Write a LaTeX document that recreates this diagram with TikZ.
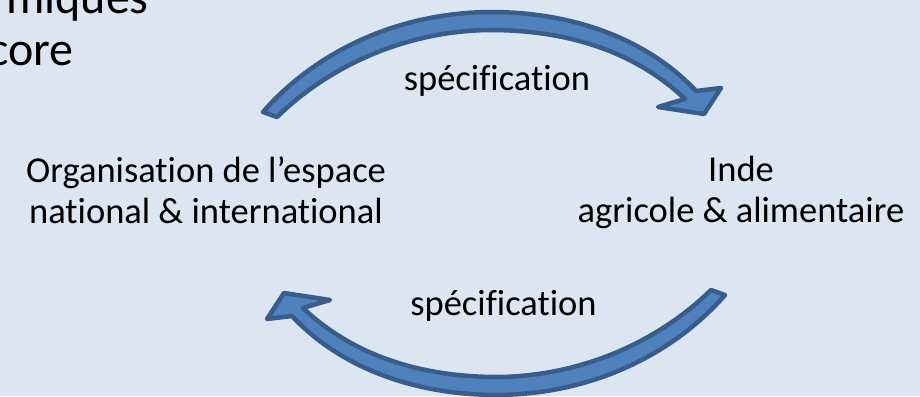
\documentclass[tikz,border=0pt]{standalone}
\usepackage{fontspec}
\setmainfont{Carlito}[Ligatures=NoCommon]
\definecolor{bgblue}{RGB}{220,230,242}
\definecolor{arrowfill}{RGB}{79,129,189}
\definecolor{arrowline}{RGB}{56,93,138}
\tikzset{
  blockarrow/.style={fill=arrowfill,draw=arrowline,line width=4.5pt,line join=round},
  txt/.style={font=\fontsize{36.5}{41}\selectfont,inner sep=0pt,align=center,anchor=base},
  titletxt/.style={font=\fontsize{48}{52}\selectfont,inner sep=0pt,anchor=base east},
  curvedarrow/.pic={
    \draw[blockarrow] (263,112) .. controls (311,57) and (390,13) .. (490,12)
      .. controls (590,12) and (658,50) .. (696,91)
      -- (721,88) -- (704,114) -- (658,107) -- (685,99)
      .. controls (646,62) and (585,30) .. (490,30)
      .. controls (400,31) and (325,70) .. (277,117) -- cycle;
  }
}
\begin{document}
\begin{tikzpicture}[x=1pt,y=-1pt]
\fill[bgblue] (0,0) rectangle (920,396);
\useasboundingbox (0,0) rectangle (920,396);
\clip (0,0) rectangle (920,396);
% partial title text cut by the left edge
\node[titletxt] (title1) at (149,14) {miques};
\node[titletxt] (title2) at (73.5,65.5) {core};
% curved block arrows
\pic at (0,0) {curvedarrow};
\pic[rotate=180] at (988,407) {curvedarrow};
% labels (anchor = baseline of the last line)
\node[txt] (org) at (206,223) {Organisation de l’espace\\national \& international};
\node[txt] (inde) at (741,222) {Inde\\agricole \& alimentaire};
\node[txt] (spec1) at (497,90) {spécification};
\node[txt] (spec2) at (503.5,315) {spécification};
\end{tikzpicture}
\end{document}
